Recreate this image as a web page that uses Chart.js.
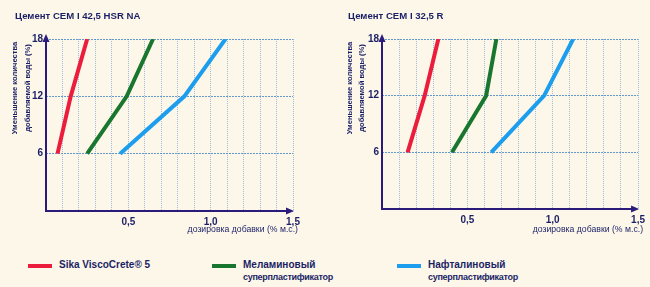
<!DOCTYPE html>
<html>
<head>
<meta charset="utf-8">
<script src="https://cdn.jsdelivr.net/npm/chart.js@4"></script>
<style>
    body { margin: 0; background: #fcf7e9; width: 650px; height: 287px; overflow: hidden; position: relative; font-family: "Liberation Sans", Arial, sans-serif; }
    canvas { position: absolute; top: 0; }
    #leftChart { left: 0; }
    #rightChart { left: 325px; }
    .legend-item { position: absolute; top: 259px; display: flex; align-items: flex-start; }
    .legend-line { width: 24px; height: 4px; margin-top: 5px; margin-right: 7px; }
    .legend-text { font-size: 10px; font-weight: bold; color: #1b1f66; line-height: 12px; }
    .legend-text small { font-size: 9px; letter-spacing: -0.3px; }
</style>
</head>
<body>
<canvas id="leftChart" width="325" height="240"></canvas>
<canvas id="rightChart" width="325" height="240"></canvas>

<div class="legend-item" style="left:28px"><div class="legend-line" style="background:#ec1c3c"></div><div class="legend-text">Sika ViscoCrete® 5</div></div>
<div class="legend-item" style="left:212px"><div class="legend-line" style="background:#18762e"></div><div class="legend-text">Меламиновый<br><small>суперпластификатор</small></div></div>
<div class="legend-item" style="left:397px"><div class="legend-line" style="background:#1c9ded"></div><div class="legend-text">Нафталиновый<br><small>суперпластификатор</small></div></div>

<script>
// уровни уменьшения воды (%)
const waterReduction = [6, 12, 18];

// CEM I 42,5 HSR NA - дозировка (% м.с.)
const leftSika = [0.07, 0.15, 0.25];
const leftMelamine = [0.25, 0.49, 0.65];
const leftNaphthalene = [0.45, 0.84, 1.09];

// CEM I 32,5 R
const rightSika = [0.15, 0.25, 0.33];
const rightMelamine = [0.41, 0.61, 0.67];
const rightNaphthalene = [0.64, 0.95, 1.12];

const yTicks = [0, 6, 12, 18];
const xMax = 1.5;

const NAVY = '#1b1f66';
const AXIS = '#2a1a7c';
const GRID = 'rgba(70, 130, 205, 0.5)';
const FONT = '"Liberation Sans", Arial, sans-serif';

const toPoints = (xs) => waterReduction.map((y, i) => ({ x: xs[i], y: y }));

// подписи, стрелки осей
const axisDecor = {
    id: 'axisDecor',
    afterDraw(chart, args, opts) {
        const ctx = chart.ctx;
        const a = chart.chartArea;
        ctx.save();

        // оси
        ctx.strokeStyle = AXIS;
        ctx.fillStyle = AXIS;
        ctx.lineWidth = 2;
        ctx.beginPath();
        ctx.moveTo(a.left, a.top - 2);
        ctx.lineTo(a.left, a.bottom);
        ctx.lineTo(a.right - 4, a.bottom);
        ctx.stroke();
        ctx.beginPath();
        ctx.moveTo(a.left, a.top - 5);
        ctx.lineTo(a.left - 3.5, a.top + 3);
        ctx.lineTo(a.left + 3.5, a.top + 3);
        ctx.closePath();
        ctx.fill();
        ctx.beginPath();
        ctx.moveTo(a.right + 1, a.bottom);
        ctx.lineTo(a.right - 7, a.bottom - 3.5);
        ctx.lineTo(a.right - 7, a.bottom + 3.5);
        ctx.closePath();
        ctx.fill();

        ctx.fillStyle = NAVY;
        // заголовок
        ctx.font = 'bold 9.6px ' + FONT;
        ctx.textAlign = 'left';
        ctx.textBaseline = 'middle';
        ctx.fillText(opts.title, opts.titleX, 16);

        // подпись оси X
        ctx.font = '8.7px ' + FONT;
        ctx.textAlign = 'right';
        ctx.fillText('дозировка добавки (% м.с.)', a.right + opts.xTitleShift, 230);

        // подпись оси Y
        ctx.font = 'bold 7.6px ' + FONT;
        ctx.textAlign = 'center';
        const lines = ['Уменьшение количества', 'добавляемой воды (%)'];
        lines.forEach((line, i) => {
            ctx.save();
            ctx.translate(opts.yTitleX[i], 88);
            ctx.rotate(-Math.PI / 2);
            ctx.fillText(line, 0, 0);
            ctx.restore();
        });
        ctx.restore();
    }
};

function makeChart(id, sika, melamine, naphthalene, layout) {
    const ds = (label, xs, color) => ({
        label: label,
        data: toPoints(xs),
        borderColor: color,
        borderWidth: 4,
        pointRadius: 0,
        tension: 0,
        borderCapStyle: 'butt'
    });

    return new Chart(document.getElementById(id), {
        type: 'line',
        data: {
            datasets: [
                ds('Sika ViscoCrete® 5', sika, '#ec1c3c'),
                ds('Меламиновый суперпластификатор', melamine, '#18762e'),
                ds('Нафталиновый суперпластификатор', naphthalene, '#1c9ded')
            ]
        },
        options: {
            responsive: false,
            animation: false,
            layout: { padding: { left: 0, top: 39, right: layout.padRight, bottom: 0 } },
            plugins: {
                legend: { display: false },
                tooltip: { enabled: false },
                axisDecor: layout.decor
            },
            scales: {
                x: {
                    type: 'linear',
                    min: 0,
                    max: xMax,
                    afterFit: (s) => { s.height = layout.xHeight; },
                    border: { display: false, dash: [1, 1] },
                    grid: { color: GRID, lineWidth: 1, drawTicks: false },
                    ticks: {
                        stepSize: 0.1,
                        autoSkip: false,
                        maxRotation: 0,
                        padding: 5,
                        color: NAVY,
                        font: { family: FONT, size: 10, weight: 'bold' },
                        callback: (v) => {
                            const r = Math.round(v * 10);
                            return (r > 0 && r % 5 === 0) ? (r / 10).toFixed(1).replace('.', ',') : '';
                        }
                    }
                },
                y: {
                    min: 0,
                    max: 18,
                    afterFit: (s) => { s.width = layout.yWidth; },
                    afterBuildTicks: (s) => { s.ticks = yTicks.map(v => ({ value: v })); },
                    border: { display: false, dash: [2, 1] },
                    grid: { color: 'rgba(50, 120, 200, 0.75)', lineWidth: 1, drawTicks: false },
                    ticks: {
                        padding: 3,
                        color: NAVY,
                        font: { family: FONT, size: 10, weight: 'bold' },
                        callback: (v) => v === 0 ? '' : v
                    }
                }
            }
        },
        plugins: [axisDecor]
    });
}

makeChart('leftChart', leftSika, leftMelamine, leftNaphthalene, {
    padRight: 32, xHeight: 29, yWidth: 46,
    decor: { title: 'Цемент CEM I 42,5 HSR NA', titleX: 15, yTitleX: [15, 28], xTitleShift: 5 }
});
makeChart('rightChart', rightSika, rightMelamine, rightNaphthalene, {
    padRight: 10, xHeight: 31, yWidth: 57,
    decor: { title: 'Цемент CEM I 32,5 R', titleX: 23, yTitleX: [25, 37], xTitleShift: 5 }
});
</script>
</body>
</html>
